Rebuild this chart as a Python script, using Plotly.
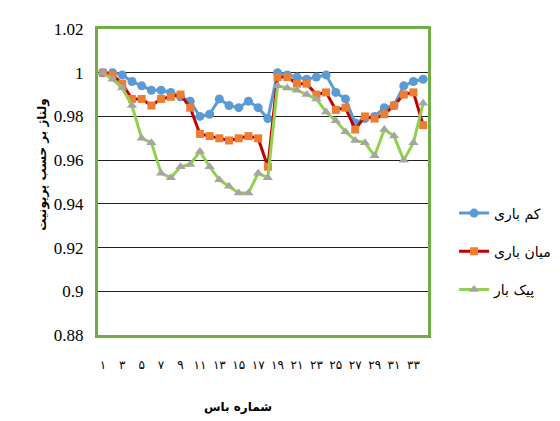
import plotly.graph_objects as go

# bus numbers (34 points on the chart)
buses = list(range(1, 35))

# voltage (p.u.), one list per load level
light_load = [1.000, 1.000, 0.999, 0.996, 0.994, 0.992, 0.992, 0.991, 0.989, 0.987,
              0.980, 0.981, 0.988, 0.985, 0.984, 0.987, 0.984, 0.979, 1.000, 0.999,
              0.998, 0.997, 0.998, 0.999, 0.991, 0.988, 0.977, 0.979, 0.980, 0.984,
              0.985, 0.994, 0.996, 0.997]
medium_load = [1.000, 0.999, 0.995, 0.988, 0.988, 0.985, 0.988, 0.989, 0.990, 0.984,
               0.972, 0.971, 0.970, 0.969, 0.970, 0.971, 0.970, 0.957, 0.998, 0.998,
               0.995, 0.995, 0.990, 0.991, 0.983, 0.984, 0.974, 0.980, 0.979, 0.981,
               0.985, 0.990, 0.991, 0.976]
peak_load = [1.000, 0.997, 0.993, 0.985, 0.970, 0.968, 0.954, 0.952, 0.957, 0.958,
             0.964, 0.957, 0.951, 0.948, 0.945, 0.945, 0.954, 0.952, 0.994, 0.993,
             0.992, 0.990, 0.988, 0.982, 0.978, 0.973, 0.969, 0.968, 0.962, 0.974,
             0.971, 0.960, 0.968, 0.986]

series_names = ["کم باری", "میان باری", "پیک بار"]

tick_vals = list(range(1, 34, 2))
tick_text = ["۱", "۳", "۵", "۷", "۹", "۱۱", "۱۳", "۱۵", "۱۷", "۱۹",
             "۲۱", "۲۳", "۲۵", "۲۷", "۲۹", "۳۱", "۳۳"]

fa_font = "DejaVu Sans"

fig = go.Figure()
fig.add_trace(go.Scatter(
    x=buses, y=light_load, name=series_names[0], mode="lines+markers",
    line=dict(color="#5B9BD5", width=3),
    marker=dict(symbol="circle", size=9, color="#5B9BD5"),
    legendgroup="a"
))
fig.add_trace(go.Scatter(
    x=buses, y=medium_load, name=series_names[1], mode="lines+markers",
    line=dict(color="#C00000", width=3),
    marker=dict(symbol="square", size=8, color="#ED7D31"),
    legendgroup="b"
))
fig.add_trace(go.Scatter(
    x=buses, y=peak_load, name=series_names[2], mode="lines+markers",
    line=dict(color="#92D050", width=3),
    marker=dict(symbol="triangle-up", size=9, color="#A5A5A5"),
    legendgroup="c"
))

fig.update_layout(
    width=560, height=421,
    margin=dict(l=90, r=127, t=12, b=94),
    paper_bgcolor="white", plot_bgcolor="white",
    showlegend=True,
    legend=dict(x=1.079, y=0.273, xanchor="left", yanchor="middle",
                font=dict(family=fa_font, size=14, color="black"),
                tracegroupgap=17, bgcolor="rgba(0,0,0,0)"),
    xaxis=dict(range=[0.5, 34.5], tickmode="array", tickvals=tick_vals, ticktext=tick_text,
               showgrid=False, zeroline=False,
               showline=True, mirror=True, linecolor="#70AD47", linewidth=3,
               ticks="", ticklabelstandoff=17,
               tickfont=dict(family=fa_font, size=12, color="black")),
    yaxis=dict(range=[0.88, 1.02], dtick=0.02, tick0=0.88,
               showgrid=True, gridcolor="#222222", gridwidth=1, zeroline=False,
               showline=True, mirror=True, linecolor="#70AD47", linewidth=3,
               ticks="outside", ticklen=8, tickcolor="rgba(0,0,0,0)",
               tickfont=dict(family="Liberation Serif", size=17, color="black")),
    annotations=[
        dict(text="<b>ولتاژ بر حسب پریونیت</b>", xref="paper", yref="paper",
             x=-0.168, y=0.555, xanchor="center", yanchor="middle",
             textangle=-90, showarrow=False,
             font=dict(family=fa_font, size=12, color="black")),
        dict(text="<b>شماره باس</b>", xref="paper", yref="paper",
             x=0.423, y=-0.235, xanchor="center", yanchor="middle", showarrow=False,
             font=dict(family=fa_font, size=12, color="black")),
    ],
)

fig.write_html("out.html")
